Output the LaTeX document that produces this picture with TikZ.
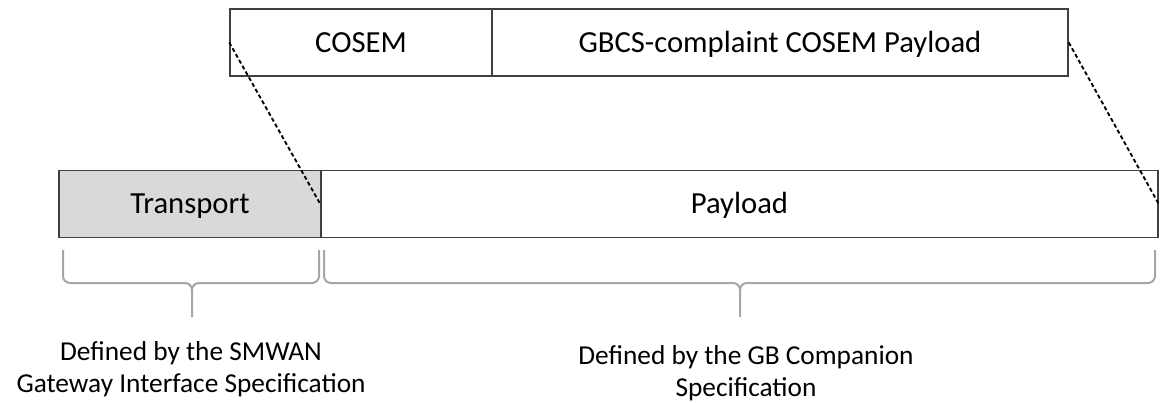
\documentclass[tikz,border=0pt]{standalone}
\usepackage{fontspec}
\setmainfont{Carlito}
\definecolor{boxgray}{HTML}{D9D9D9}
\definecolor{bracegray}{HTML}{A6A6A6}
\definecolor{edgegray}{HTML}{404040}
\tikzset{
    field/.style={draw=edgegray, line width=1.1pt, inner sep=0pt, minimum height=50pt,
        text height=15.6pt, text depth=0.8pt, font=\fontsize{23}{27}\selectfont},
    spec/.style={align=center, font=\fontsize{20.5}{24}\selectfont},
    cut/.style={line width=1.4pt, dash pattern=on 3pt off 2pt},
}
\begin{document}
\begin{tikzpicture}[x=0.75pt, y=-0.75pt]
        \useasboundingbox (0,0) rectangle (1160,403);
        % upper message
        \node[field, minimum width=196.5pt] (cosem) at (361,42.5) {COSEM};
        \node[field, minimum width=432pt] (gbcs) at (780,42.5) {GBCS-complaint COSEM Payload};
        % lower message
        \node[field, fill=boxgray, minimum width=196.5pt] (transport) at (190,204) {Transport};
        \node[field, minimum width=627.75pt] (payload) at (739.5,204) {Payload};
        \draw[cut] (cosem.west)--(payload.west);
        \draw[cut] (gbcs.east)--(payload.east);
        % braces
        \foreach \a/\m/\b in {63/192/319, 324/740/1155}{
            \draw[bracegray, line width=1.5pt] (\a,250)--(\a,276) to[out=-90,in=180] (\a+7,283)--(\m-7,283) to[out=0,in=90] (\m,290)--(\m,317);
            \draw[bracegray, line width=1.5pt] (\b,250)--(\b,276) to[out=-90,in=0] (\b-7,283)--(\m+7,283) to[out=180,in=90] (\m,290);
        }
        \node[spec] (smwan) at (191,369) {Defined by the SMWAN\\Gateway Interface Specification};
        \node[spec] (gbcomp) at (746,373) {Defined by the GB Companion\\Specification};
        \end{tikzpicture}
\end{document}
